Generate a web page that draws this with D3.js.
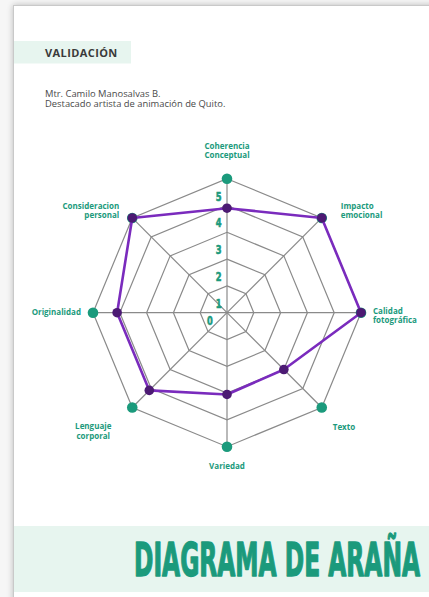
<!DOCTYPE html>
<html>
<head>
<meta charset="utf-8">
<script src="https://cdn.jsdelivr.net/npm/d3@7/dist/d3.min.js"></script>
<style>
  html, body { margin: 0; padding: 0; background: #f6f6f6; }
  svg { display: block; }
</style>
</head>
<body>
<div id="chart-area"></div>
<script>
// Data
const CATEGORIES = [
  'Coherencia\nConceptual', 'Impacto\nemocional', 'Calidad\nfotográfica', 'Texto',
  'Variedad', 'Lenguaje\ncorporal', 'Originalidad', 'Consideracion\npersonal'
]
const SCORES = [3.9, 5, 5, 3, 3.05, 4.1, 4.1, 5]
const MAX_SCORE = 5
const RING_LEVELS = [1, 2, 3, 4, 5]
const TICK_LABELS = ['0', '1', '2', '3', '4', '5']

// Sizing
const W = 429, H = 597
const CX = 227, CY = 312.7, R = 134

const TEAL = '#1b9a7c'
const MINT = '#e7f5ef'

const svg = d3.select('#chart-area').append('svg')
  .attr('width', W)
  .attr('height', H)

// page with shadow
const defs = svg.append('defs')
const f = defs.append('filter').attr('id', 'shadow')
  .attr('x', '-5%').attr('y', '-5%').attr('width', '110%').attr('height', '110%')
f.append('feGaussianBlur').attr('in', 'SourceAlpha').attr('stdDeviation', 3)
f.append('feComponentTransfer').append('feFuncA').attr('type', 'linear').attr('slope', 0.25)
const fm = f.append('feMerge')
fm.append('feMergeNode')
fm.append('feMergeNode').attr('in', 'SourceGraphic')

svg.append('rect')
  .attr('x', 13.5).attr('y', 5.5)
  .attr('width', W).attr('height', H)
  .attr('fill', '#fff')
  .attr('stroke', '#c9c9c9')
  .attr('filter', 'url(#shadow)')

// header
svg.append('rect')
  .attr('x', 14).attr('y', 41)
  .attr('width', 117).attr('height', 22.5)
  .attr('fill', MINT)

svg.append('text')
  .attr('x', 45).attr('y', 57.3)
  .attr('font-family', 'Open Sans')
  .attr('font-weight', 'bold')
  .attr('font-size', '11px')
  .attr('letter-spacing', '0.4px')
  .attr('fill', '#3a3a3a')
  .text('VALIDACIÓN')

const subtitle = ['Mtr. Camilo Manosalvas B.', 'Destacado artista de animación de Quito.']
subtitle.forEach((line, i) => {
  svg.append('text')
    .attr('x', 45)
    .attr('y', 96.5 + i * 10.9)
    .attr('font-family', 'Open Sans')
    .attr('font-size', '9.4px')
    .attr('fill', '#4a4a4a')
    .text(line)
})

// footer
svg.append('rect')
  .attr('x', 14).attr('y', 526)
  .attr('width', W).attr('height', 66)
  .attr('fill', MINT)

// condensed heavy title: narrow font stretched vertically
svg.append('g')
  .attr('transform', 'translate(134, 576) scale(1, 1.37)')
  .append('text')
  .attr('x', 0).attr('y', 0)
  .attr('font-family', 'Liberation Sans Narrow, DejaVu Sans Condensed, sans-serif')
  .attr('font-weight', 'bold')
  .attr('font-size', '34px')
  .attr('textLength', 286)
  .attr('lengthAdjust', 'spacingAndGlyphs')
  .attr('fill', TEAL)
  .attr('stroke', TEAL)
  .attr('stroke-width', 1)
  .attr('stroke-linejoin', 'round')
  .text('DIAGRAMA DE ARAÑA')

// radar
const g = svg.append('g')
  .attr('transform', `translate(${CX}, ${CY})`)

const rScale = d3.scaleLinear()
  .domain([0, MAX_SCORE])
  .range([0, R])

const angle = d3.scaleLinear()
  .domain([0, CATEGORIES.length])
  .range([0, 2 * Math.PI])

const pt = (i, v) => [
  rScale(v) * Math.sin(angle(i)),
  -rScale(v) * Math.cos(angle(i))
]

const radial = d3.lineRadial()
  .angle((d, i) => angle(i))
  .radius(d => rScale(d))
  .curve(d3.curveLinearClosed)

// rings
g.selectAll('.ring')
  .data(RING_LEVELS)
  .join('path')
    .attr('class', 'ring')
    .attr('d', lvl => radial(CATEGORIES.map(() => lvl)))
    .attr('fill', 'none')
    .attr('stroke', '#8a8a8a')
    .attr('stroke-width', 1.2)

// spokes
g.selectAll('.spoke')
  .data(CATEGORIES)
  .join('line')
    .attr('class', 'spoke')
    .attr('x1', 0).attr('y1', 0)
    .attr('x2', (d, i) => pt(i, MAX_SCORE)[0])
    .attr('y2', (d, i) => pt(i, MAX_SCORE)[1])
    .attr('stroke', '#8a8a8a')
    .attr('stroke-width', 1.2)

// ring labels
g.selectAll('.tick-label')
  .data(TICK_LABELS)
  .join('text')
    .attr('class', 'tick-label')
    .attr('x', d => +d === 0 ? -20 : -11.3)
    .attr('y', d => +d === 0 ? 11.8 : -rScale(+d) + 21.8)
    .attr('font-family', 'Liberation Sans Narrow, DejaVu Sans Condensed, sans-serif')
    .attr('font-weight', 'bold')
    .attr('font-size', '13px')
    .attr('textLength', 5.8)
    .attr('lengthAdjust', 'spacingAndGlyphs')
    .attr('fill', TEAL)
    .attr('stroke', TEAL)
    .attr('stroke-width', 0.6)
    .text(d => d)

// outer teal dots
g.selectAll('.outer-dot')
  .data(CATEGORIES)
  .join('circle')
    .attr('class', 'outer-dot')
    .attr('cx', (d, i) => pt(i, MAX_SCORE)[0])
    .attr('cy', (d, i) => pt(i, MAX_SCORE)[1])
    .attr('r', 5.3)
    .attr('fill', TEAL)

// score polygon
g.append('path')
  .attr('d', radial(SCORES))
  .attr('fill', 'none')
  .attr('stroke', '#7a2bbd')
  .attr('stroke-width', 2.6)
  .attr('stroke-linejoin', 'round')

g.selectAll('.score-dot')
  .data(SCORES)
  .join('circle')
    .attr('class', 'score-dot')
    .attr('cx', (d, i) => pt(i, d)[0])
    .attr('cy', (d, i) => pt(i, d)[1])
    .attr('r', 4.8)
    .attr('fill', '#4c1a73')

// category labels: offset from outer dot, anchor
const LABEL_LAYOUT = [
  { dx: 0, dy: -30, anchor: 'middle' },
  { dx: 19, dy: -9, anchor: 'start' },
  { dx: 12, dy: 1, anchor: 'start' },
  { dx: 11, dy: 23, anchor: 'start' },
  { dx: 0, dy: 22, anchor: 'middle' },
  { dx: -39, dy: 22, anchor: 'middle' },
  { dx: -12, dy: 2, anchor: 'end' },
  { dx: -13, dy: -9, anchor: 'end' }
]

g.selectAll('.cat-label')
  .data(CATEGORIES)
  .join('text')
    .attr('class', 'cat-label')
    .attr('text-anchor', (d, i) => LABEL_LAYOUT[i].anchor)
    .attr('font-family', 'Open Sans')
    .attr('font-weight', 'bold')
    .attr('font-size', '8px')
    .attr('fill', TEAL)
    .each(function(d, i) {
      const [x, y] = pt(i, MAX_SCORE)
      const L = LABEL_LAYOUT[i]
      d3.select(this).selectAll('tspan')
        .data(d.split('\n'))
        .join('tspan')
          .attr('x', x + L.dx)
          .attr('y', (s, j) => y + L.dy + j * 9.5)
          .text(s => s)
    })
</script>
</body>
</html>
